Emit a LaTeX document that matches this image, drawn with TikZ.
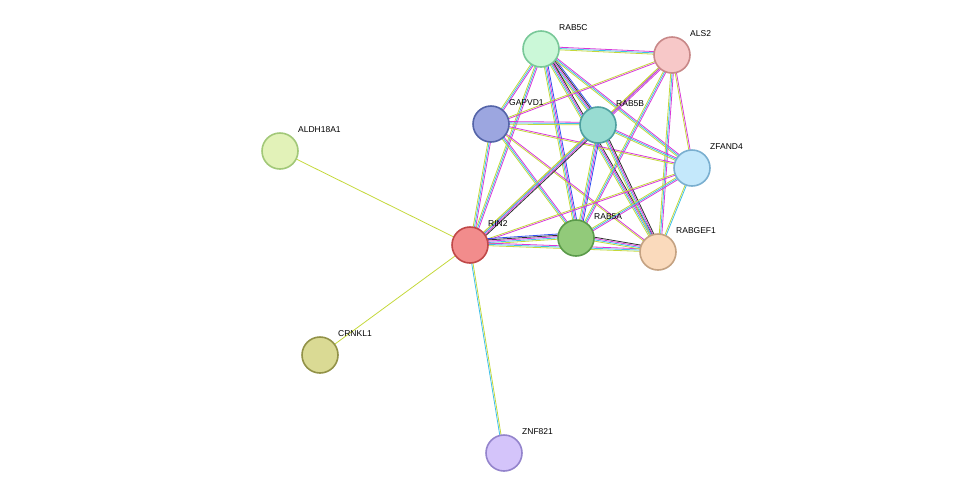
\documentclass[tikz,border=0pt]{standalone}
\usepackage{fontspec}
\setmainfont{Liberation Sans}
\usetikzlibrary{calc}
\pgfdeclarelayer{bg}\pgfsetlayers{bg,main}
\definecolor{yg}{HTML}{C4D83A}
\definecolor{cy}{HTML}{3EC0E8}
\definecolor{mg}{HTML}{D838D8}
\definecolor{bl}{HTML}{3050F0}
\definecolor{bk}{HTML}{303030}
\tikzset{prot/.style={circle,minimum size=36pt,inner sep=0pt,line width=1.6pt},
 lab/.style={anchor=west,font=\fontsize{8.5pt}{10pt}\selectfont,inner sep=0pt}}
\newcommand{\pn}[6]{\definecolor{f#1}{HTML}{#4}\definecolor{d#1}{HTML}{#5}%
 \node[prot,fill=f#1,draw=d#1] (#1) at (#2,#3) {};
 \node[lab] (#1-l) at (#2+18,#3-21) {#6};}
\newcommand{\edg}[3]{\begin{pgfonlayer}{bg}
 \foreach \c [count=\i] in {#3} {\pgfmathsetmacro\o{(\i-1)*1.3}
 \draw[\c,line width=0.8pt] ($(#1.center)!\o pt!90:(#2.center)$) -- ($(#2.center)!\o pt!-90:(#1.center)$);}
 \end{pgfonlayer}}
\begin{document}
\begin{tikzpicture}[x=1pt,y=-1pt]
\useasboundingbox (0,0) rectangle (976,499);
\pn{RAB5C}{541}{49}{CBF8D8}{78C898}{RAB5C}
\pn{ALS2}{672}{55}{F7C8C8}{C88888}{ALS2}
\pn{GAPVD1}{491}{124}{9CA6E0}{5464A8}{GAPVD1}
\pn{RAB5B}{598}{125}{98DCD2}{4EA0A0}{RAB5B}
\pn{ZFAND4}{692}{168}{C4E8FB}{7AAFD0}{ZFAND4}
\pn{ALDH18A1}{280}{151}{E2F2B8}{A2C878}{ALDH18A1}
\pn{RIN2}{470}{245}{F28C8C}{C04848}{RIN2}
\pn{RAB5A}{576}{238}{92CA7A}{5A9A4A}{RAB5A}
\pn{RABGEF1}{658}{252}{FADABC}{C4A282}{RABGEF1}
\pn{CRNKL1}{320}{355}{DADA94}{929248}{CRNKL1}
\pn{ZNF821}{504}{453}{D4C4FA}{9484CC}{ZNF821}
\edg{ALDH18A1}{RIN2}{yg}
\edg{CRNKL1}{RIN2}{yg}
\edg{ZNF821}{RIN2}{yg,cy}
\foreach \a/\b/\cl in {RAB5C/ALS2/{yg,cy,mg},RAB5C/GAPVD1/{yg,cy,mg},RAB5C/RAB5B/{yg,cy,mg,bk,bl},
 RAB5C/ZFAND4/{yg,cy,mg},RAB5C/RIN2/{yg,cy,mg},RAB5C/RAB5A/{yg,cy,mg,bl},RAB5C/RABGEF1/{yg,cy,mg,bk},
 ALS2/GAPVD1/{yg,mg},ALS2/RAB5B/{yg,cy,mg},ALS2/ZFAND4/{yg,mg},ALS2/RIN2/{yg,mg},ALS2/RAB5A/{yg,cy,mg},ALS2/RABGEF1/{yg,cy,mg},
 GAPVD1/RAB5B/{yg,cy,mg},GAPVD1/ZFAND4/{yg,mg},GAPVD1/RIN2/{yg,cy,mg},GAPVD1/RAB5A/{yg,cy,mg},GAPVD1/RABGEF1/{yg,mg},
 RAB5B/ZFAND4/{yg,cy,mg},RAB5B/RIN2/{yg,cy,mg,bk},RAB5B/RAB5A/{yg,cy,mg,bl},RAB5B/RABGEF1/{yg,cy,mg,bk},
 ZFAND4/RIN2/{yg,mg},ZFAND4/RAB5A/{yg,cy,mg},ZFAND4/RABGEF1/{yg,cy},
 RIN2/RAB5A/{yg,cy,mg,bk,bl},RIN2/RABGEF1/{yg,cy,mg},RAB5A/RABGEF1/{yg,cy,mg,bk}}
 {\edef\tmp{\noexpand\edg{\a}{\b}{\cl}}\tmp}
\end{tikzpicture}
\end{document}
